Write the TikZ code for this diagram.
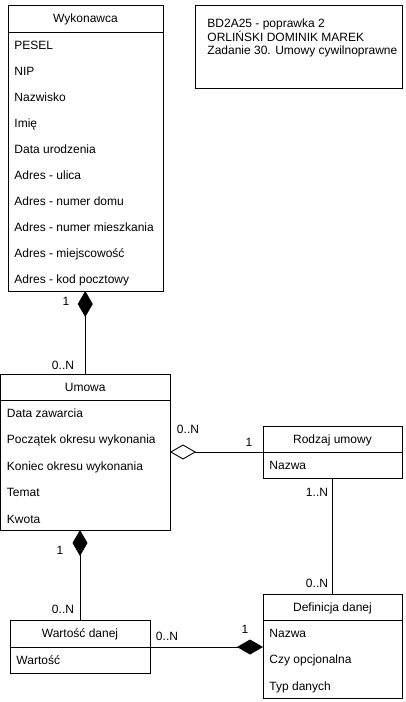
\documentclass[tikz,border=0pt]{standalone}
\usepackage{fontspec}
\setmainfont{Liberation Sans}
\usetikzlibrary{arrows.meta,positioning}

\begin{document}
\begin{tikzpicture}[x=1pt,y=-1pt,line width=0.9pt,
                    font=\fontsize{12}{14}\selectfont]
  \tikzstyle{naglowek}=[draw,anchor=north west,outer sep=0pt,inner sep=0pt,
                        minimum height=26pt,text height=11.5pt,text depth=3pt]
  \tikzstyle{cialo}=[draw,outer sep=0pt,inner sep=0pt]
  \tikzstyle{pole}=[anchor=west,inner sep=0pt,text height=11.5pt,text depth=3pt]
  \tikzstyle{krotnosc}=[inner sep=0pt,text height=11.5pt,text depth=3pt]
  \tikzstyle{sklad}=[{Diamond[length=26pt,width=15pt]}-]
  \tikzstyle{agreg}=[{Diamond[open,length=26pt,width=15pt]}-]

  \useasboundingbox (0,0) rectangle (405,702);

  % Wykonawca
  \node[naglowek,minimum width=155pt,minimum height=27pt] (wyk) at (8,5) {Wykonawca};
  \node[cialo,minimum width=155pt,minimum height=259pt,below=0pt of wyk] (wykA) {};
  \foreach \nazwa [count=\i] in {PESEL,NIP,Nazwisko,Imię,Data urodzenia,Adres - ulica,
      Adres - numer domu,Adres - numer mieszkania,Adres - miejscowość,Adres - kod pocztowy}
    \node[pole] (wyk-\i) at ([xshift=6pt,yshift={-13pt-(\i-1)*26pt}]wykA.north west) {\nazwa};

  % notatka
  \node[draw,anchor=north west,outer sep=0pt,minimum width=207pt,minimum height=83pt] (notatka) at (195,5) {};
  \node[anchor=north west,inner sep=0pt,align=left,font=\fontsize{12}{12.5}\selectfont]
    (notatkaT) at (207,18.5) {BD2A25 - poprawka 2\\ORLIŃSKI DOMINIK MAREK\\Zadanie 30. Umowy cywilnoprawne};

  % Umowa
  \node[naglowek,minimum width=169.5pt] (umowa) at (0.5,374) {Umowa};
  \node[cialo,minimum width=169.5pt,minimum height=130pt,below=0pt of umowa] (umowaA) {};
  \foreach \nazwa [count=\i] in {Data zawarcia,Początek okresu wykonania,
      Koniec okresu wykonania,Temat,Kwota}
    \node[pole] (umowa-\i) at ([xshift=6pt,yshift={-13pt-(\i-1)*26.5pt}]umowaA.north west) {\nazwa};

  % Rodzaj umowy
  \node[naglowek,minimum width=139pt] (rodzaj) at (263,426) {Rodzaj umowy};
  \node[cialo,minimum width=139pt,minimum height=26pt,below=0pt of rodzaj] (rodzajA) {};
  \node[pole] (rodzaj-1) at ([xshift=6pt]rodzajA.west) {Nazwa};

  % Definicja danej
  \node[naglowek,minimum width=139pt] (definicja) at (263,594) {Definicja danej};
  \node[cialo,minimum width=139pt,minimum height=78pt,below=0pt of definicja] (definicjaA) {};
  \foreach \nazwa [count=\i] in {Nazwa,Czy opcjonalna,Typ danych}
    \node[pole] (definicja-\i) at ([xshift=6pt,yshift={-13pt-(\i-1)*26.5pt}]definicjaA.north west) {\nazwa};

  % Wartosc danej
  \node[naglowek,minimum width=140pt,minimum height=27pt] (wartosc) at (10,620) {Wartość danej};
  \node[cialo,minimum width=140pt,minimum height=26pt,below=0pt of wartosc] (wartoscA) {};
  \node[pole] (wartosc-1) at ([xshift=6pt]wartoscA.west) {Wartość};

  % powiazania
  \draw[sklad] (wykA.south -| umowa.north) -- (umowa.north);
  \draw[agreg] (umowaA.east |- rodzaj.south west) -- (rodzaj.south west);
  \draw (rodzajA.south) -- (definicja.north);
  \draw[sklad] (umowaA.south -| wartosc.north) -- (wartosc.north);
  \draw[sklad] (wartosc.south east -| definicjaA.west) -- (wartosc.south east);

  % krotnosci
  \node[krotnosc] (k1) at (66,301) {1};
  \node[krotnosc] (k2) at (63,365) {0..N};
  \node[krotnosc] (k3) at (188,429) {0..N};
  \node[krotnosc] (k4) at (249,442) {1};
  \node[krotnosc] (k5) at (317,492) {1..N};
  \node[krotnosc] (k6) at (317,583) {0..N};
  \node[krotnosc] (k7) at (60,550) {1};
  \node[krotnosc] (k8) at (63,609) {0..N};
  \node[krotnosc] (k9) at (167,636) {0..N};
  \node[krotnosc] (k10) at (245,629) {1};

\end{tikzpicture}
\end{document}
